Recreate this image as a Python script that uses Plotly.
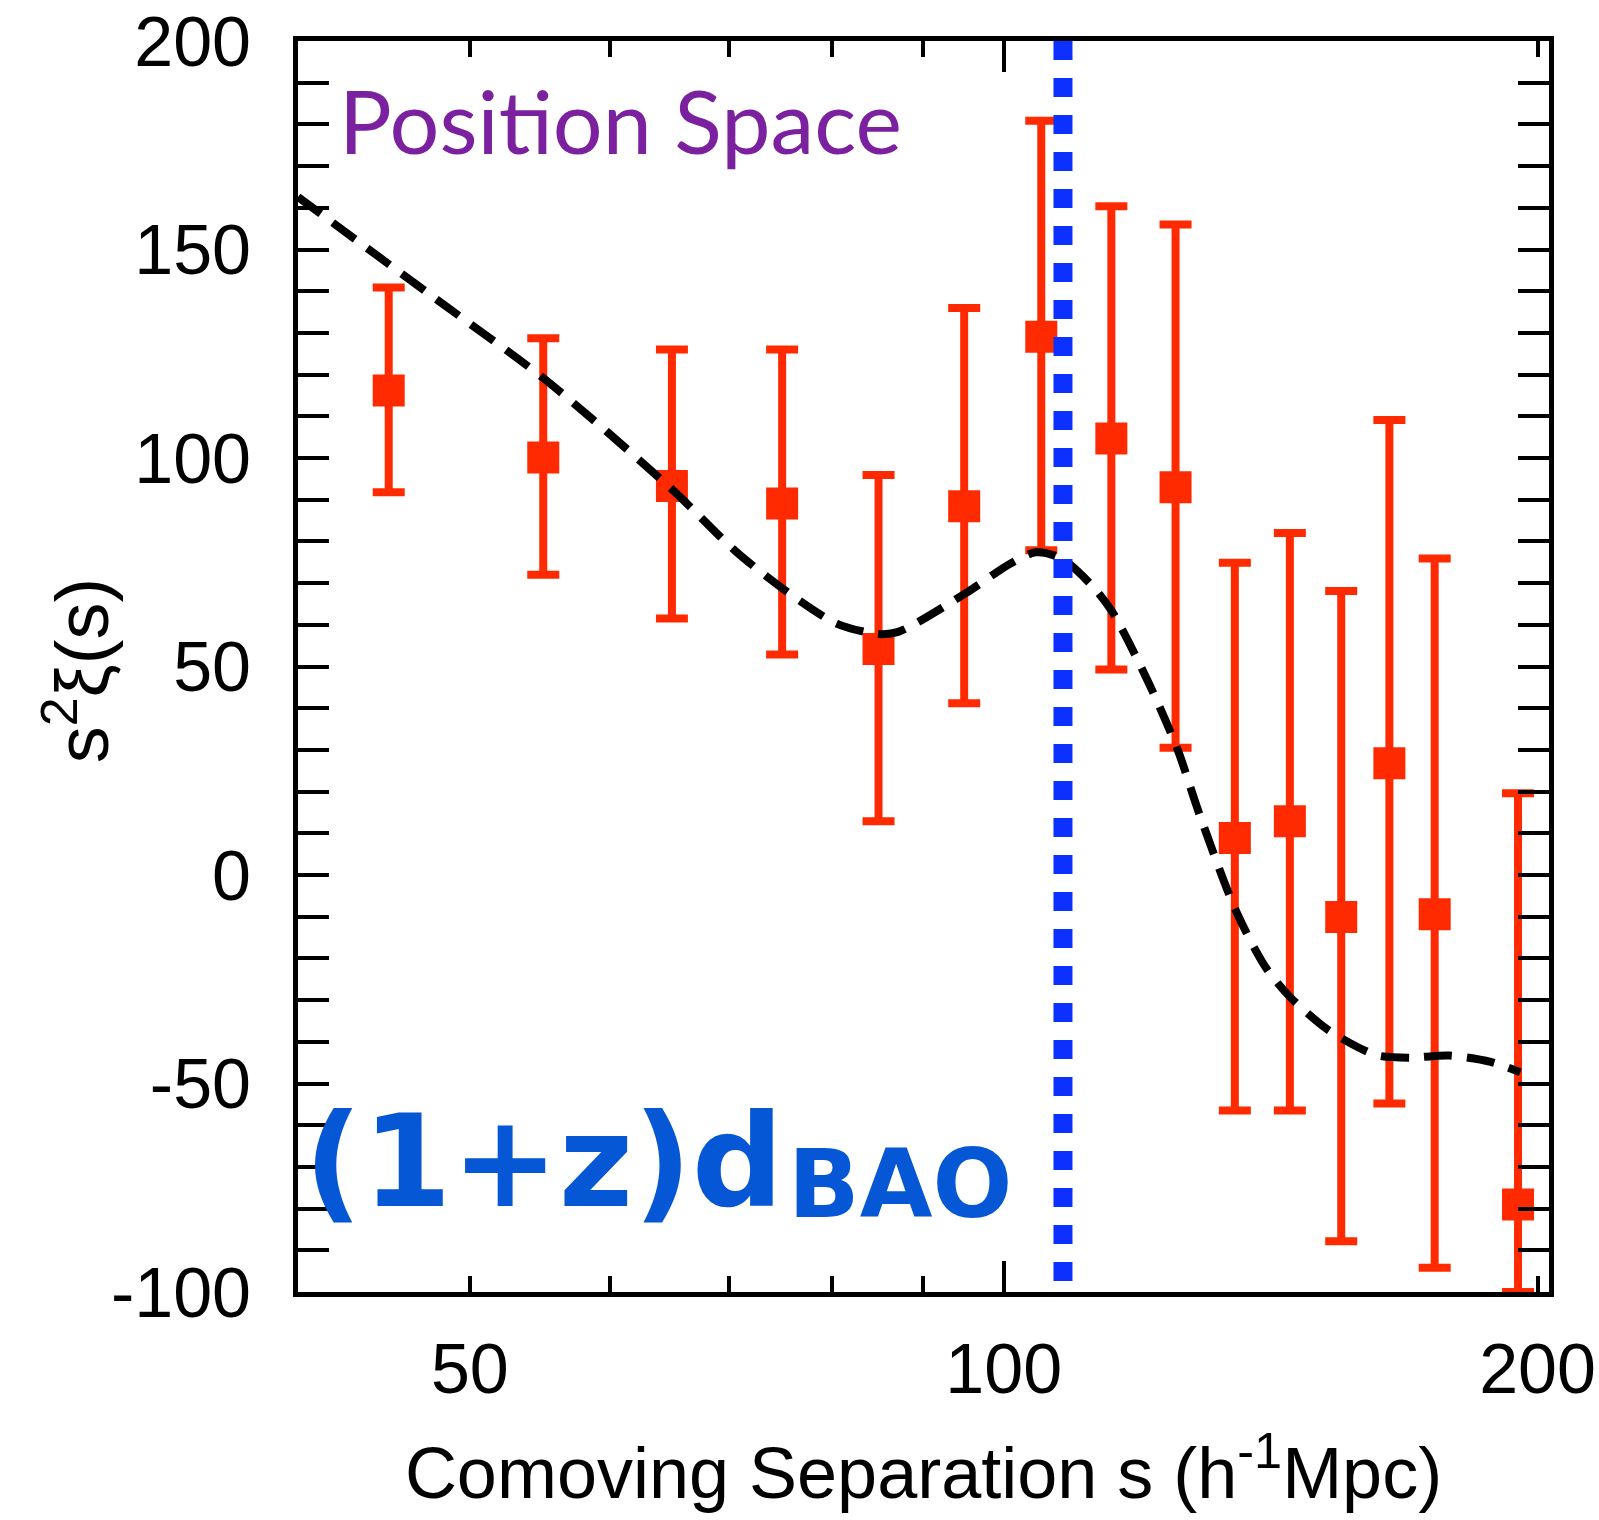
import plotly.graph_objects as go
import numpy as np

# ---- data ----
s_data = [45, 55, 65, 75, 85, 95, 105, 115, 125, 135, 145, 155, 165, 175, 195]
xi_data = [116.2, 100.1, 93.3, 89.1, 54.2, 88.4, 129.1, 104.7, 93.0, 8.9, 12.9, -10.1, 26.8, -9.4, -79.0]
err_plus = [24.7, 28.6, 32.7, 36.9, 41.7, 47.6, 51.8, 55.7, 63.0, 66.0, 69.1, 78.2, 82.3, 85.3, 98.6]
err_minus = [24.4, 28.1, 31.8, 36.2, 41.3, 47.2, 51.2, 55.4, 62.5, 65.4, 69.4, 77.7, 81.6, 84.8, 21.0]

s_model = [40.0, 45.0, 48.0, 55.1, 65.0, 70.5, 75.1, 80.5, 85.0, 87.2, 95.2, 100.9, 104.3,
           107.8, 112.2, 115.1, 120.7, 125.3, 129.0, 135.3, 140.6, 145.3, 152.2, 158.4,
           162.6, 169.2, 178.4, 188.2, 195.6]
xi_model = [162.6, 146.5, 137.7, 118.9, 92.5, 77.9, 68.6, 60.3, 57.8, 58.3, 67.6, 74.7, 77.4,
            75.9, 69.3, 63.2, 46.1, 30.2, 14.3, -8.9, -22.3, -29.6, -37.0, -41.3,
            -43.3, -43.8, -43.3, -44.8, -47.3]

s_bao = 108.0
y_span = [200, -100]

x_tickvals = [50, 60, 70, 80, 90, 100, 200]
x_ticktext = ["50", "", "", "", "", "100", "200"]
x_major_long = [100]

y_tickvals = [-100, -50, 0, 50, 100, 150, 200]
y_ticktext = ["-100", "-50", "0", "50", "100", "150", "200"]

RED = "#FF2A00"
BLUE_DOT = "#0C30FF"
BLUE_TXT = "#0657D6"
PURPLE = "#7B21A0"
FONT = "Liberation Sans, Arial, sans-serif"

fig = go.Figure()

fig.add_trace(go.Scatter(
    x=s_data, y=xi_data, mode="markers",
    marker=dict(symbol="square", size=32, color=RED, line=dict(width=0)),
    error_y=dict(type="data", symmetric=False, array=err_plus, arrayminus=err_minus,
                 color=RED, thickness=8, width=16),
    showlegend=False,
))

fig.add_trace(go.Scatter(
    x=s_model, y=xi_model, mode="lines",
    line=dict(color="black", width=8, dash="28px,15px", shape="spline", smoothing=0.8),
    showlegend=False,
))

fig.add_trace(go.Scatter(
    x=[s_bao, s_bao], y=y_span, mode="lines",
    line=dict(color=BLUE_DOT, width=19, dash="19px,18px"),
    showlegend=False,
))

# invisible trace for overlay axis carrying the long tick
fig.add_trace(go.Scatter(x=[100], y=[0], xaxis="x2", mode="markers",
                         marker=dict(opacity=0), showlegend=False, hoverinfo="skip"))

xrange = [np.log10(40), np.log10(203)]

fig.update_layout(
    width=1599, height=1520,
    margin=dict(l=298, r=50, t=41, b=228, autoexpand=False),
    paper_bgcolor="white", plot_bgcolor="white",
    font=dict(family=FONT, color="black", size=70),
    xaxis=dict(
        type="log", range=xrange, automargin=False,
        tickvals=x_tickvals, ticktext=x_ticktext,
        ticks="inside", ticklen=16, tickwidth=4, tickcolor="black",
        showline=True, linewidth=5, linecolor="black", mirror="allticks",
        showgrid=False, zeroline=False,
        tickfont=dict(size=70), ticklabelstandoff=12,
        title=dict(text="Comoving Separation s (h<sup>-1</sup>Mpc)", font=dict(size=72), standoff=42),
    ),
    xaxis2=dict(
        type="log", range=xrange, overlaying="x", anchor="y", side="bottom", automargin=False,
        tickvals=x_major_long, ticktext=[""],
        ticks="inside", ticklen=31, tickwidth=4, tickcolor="black",
        showline=False, mirror="allticks", showgrid=False, zeroline=False,
    ),
    yaxis=dict(
        range=[-100, 200], tickvals=y_tickvals, ticktext=y_ticktext, automargin=False,
        ticks="inside", ticklen=31, tickwidth=4, tickcolor="black",
        minor=dict(tickmode="linear", tick0=0, dtick=10, ticks="inside", ticklen=15,
                   tickwidth=4, tickcolor="black", showgrid=False),
        showline=True, linewidth=5, linecolor="black", mirror="allticks",
        showgrid=False, zeroline=False,
        tickfont=dict(size=70), ticklabelstandoff=28,
    ),
    annotations=[
        dict(text="s<sup>2</sup>ξ(s)", xref="paper", yref="paper", x=-0.1767, y=0.497,
             xanchor="center", yanchor="middle", textangle=-90, showarrow=False,
             font=dict(family=FONT, size=74, color="black")),
        dict(text="Position Space", xref="paper", yref="paper", x=0.031, y=0.937,
             xanchor="left", yanchor="middle", showarrow=False,
             font=dict(family="Lato, Noto Sans, sans-serif", size=88, color=PURPLE)),
        dict(text="(1+z)d", xref="paper", yref="paper", x=0.003, y=0.104,
             xanchor="left", yanchor="middle", showarrow=False,
             font=dict(family="DejaVu Sans, sans-serif", size=128, color=BLUE_TXT, weight="bold")),
        dict(text="BAO", xref="paper", yref="paper", x=0.390, y=0.086,
             xanchor="left", yanchor="middle", showarrow=False,
             font=dict(family="DejaVu Sans, sans-serif", size=94, color=BLUE_TXT, weight="bold")),
    ],
)

fig.write_html("out.html")
